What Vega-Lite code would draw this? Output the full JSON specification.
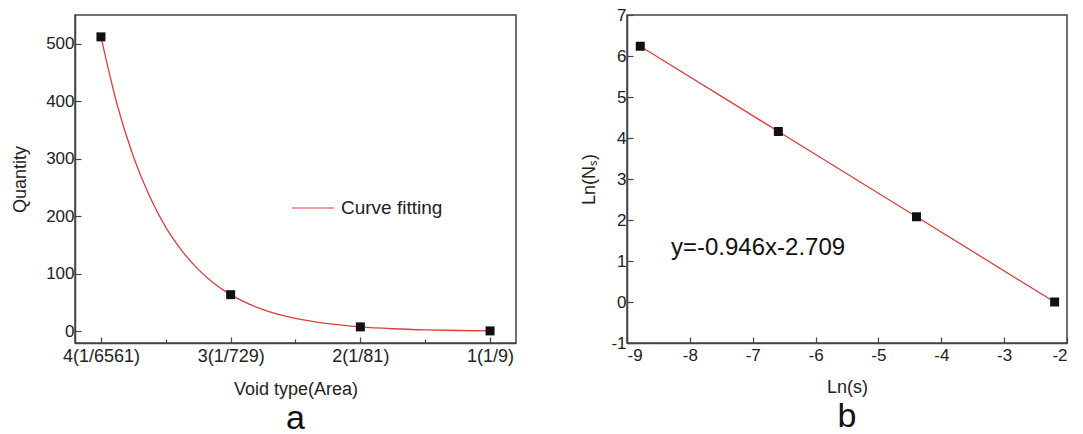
{
  "$schema": "https://vega.github.io/schema/vega-lite/v6.json",
  "padding": {"left": 10, "top": 5, "right": 0, "bottom": 0},
  "background": "white",
  "spacing": 111,
  "bounds": "flush",
  "config": {
    "view": {"stroke": "#444", "strokeWidth": 1.5},
    "font": "Liberation Sans",
    "axis": {
      "grid": false,
      "domainColor": "#444",
      "domainWidth": 1.5,
      "tickColor": "#444",
      "tickWidth": 1.2,
      "labelFont": "Liberation Sans",
      "labelFontSize": 17,
      "labelColor": "#222",
      "titleFont": "Liberation Sans",
      "titleFontSize": 18,
      "titleFontWeight": "normal",
      "titleColor": "#222"
    },
    "title": {"font": "Liberation Sans", "fontWeight": "normal", "color": "#111"}
  },
  "datasets": {
    "curveA": [
      {"idx": 0, "q": 512},
      {"idx": 0.125, "q": 394},
      {"idx": 0.25, "q": 304},
      {"idx": 0.375, "q": 235},
      {"idx": 0.5, "q": 181},
      {"idx": 0.625, "q": 140},
      {"idx": 0.75, "q": 108},
      {"idx": 0.875, "q": 83},
      {"idx": 1, "q": 64},
      {"idx": 1.25, "q": 38},
      {"idx": 1.5, "q": 22.6},
      {"idx": 1.75, "q": 13.5},
      {"idx": 2, "q": 8},
      {"idx": 2.25, "q": 4.8},
      {"idx": 2.5, "q": 2.8},
      {"idx": 2.75, "q": 1.7},
      {"idx": 3, "q": 1}
    ],
    "pointsA": [
      {"idx": 0, "q": 512},
      {"idx": 1, "q": 64},
      {"idx": 2, "q": 8},
      {"idx": 3, "q": 1}
    ],
    "pointsB": [
      {"lns": -8.789, "lnn": 6.238},
      {"lns": -6.592, "lnn": 4.159},
      {"lns": -4.394, "lnn": 2.079},
      {"lns": -2.197, "lnn": 0}
    ],
    "labelB": [
      {"lns": -8.3, "lnn": 1.31, "text": "y=-0.946x-2.709"}
    ]
  },
  "hconcat": [
    {
      "width": 441,
      "height": 328,
      "title": {"text": "a", "orient": "bottom", "fontSize": 34, "offset": 4},
      "layer": [
        {
          "data": {"name": "curveA"},
          "mark": {"type": "line", "strokeWidth": 1.3, "interpolate": "monotone"},
          "encoding": {
            "x": {
              "field": "idx", "type": "quantitative",
              "scale": {"domain": [-0.2, 3.2], "nice": false, "zero": false},
              "axis": {
                "title": "Void type(Area)",
                "values": [0, 0.5, 1, 1.5, 2, 2.5, 3],
                "labelExpr": "datum.value === 0 ? '4(1/6561)' : datum.value === 1 ? '3(1/729)' : datum.value === 2 ? '2(1/81)' : datum.value === 3 ? '1(1/9)' : ''",
                "labelFontSize": 18,
                "tickSize": {"condition": {"test": "datum.value % 1 === 0", "value": -6}, "value": -4},
                "labelPadding": 10,
                "titlePadding": 15
              }
            },
            "y": {
              "field": "q", "type": "quantitative",
              "scale": {"domain": [-20, 550], "nice": false, "zero": false},
              "axis": {
                "title": "Quantity",
                "values": [0, 50, 100, 150, 200, 250, 300, 350, 400, 450, 500],
                "labelExpr": "datum.value % 100 === 0 ? '' + datum.value : ''",
                "tickSize": {"condition": {"test": "datum.value % 100 === 0", "value": -6}, "value": -4},
                "labelPadding": 7,
                "titlePadding": 16
              }
            },
            "color": {
              "datum": "Curve fitting",
              "type": "nominal",
              "scale": {"range": ["#e03c3c"]},
              "legend": {
                "title": null,
                "orient": "none",
                "legendX": 216,
                "legendY": 171,
                "padding": 0,
                "symbolType": "stroke",
                "symbolSize": 1764,
                "symbolStrokeWidth": 1.2,
                "labelOffset": 6,
                "labelFontSize": 19,
                "labelFont": "Liberation Sans",
                "labelColor": "#222"
              }
            }
          }
        },
        {
          "data": {"name": "pointsA"},
          "mark": {"type": "point", "shape": "square", "filled": true, "size": 81, "color": "#111", "opacity": 1},
          "encoding": {
            "x": {"field": "idx", "type": "quantitative"},
            "y": {"field": "q", "type": "quantitative"}
          }
        }
      ]
    },
    {
      "width": 440,
      "height": 328,
      "title": {"text": "b", "orient": "bottom", "fontSize": 34, "offset": 4},
      "layer": [
        {
          "data": {"name": "pointsB"},
          "mark": {"type": "line", "strokeWidth": 1.3, "color": "#e03c3c"},
          "encoding": {
            "x": {
              "field": "lns", "type": "quantitative",
              "scale": {"domain": [-9, -2], "nice": false, "zero": false},
              "axis": {
                "title": "Ln(s)",
                "values": [-9, -8.5, -8, -7.5, -7, -6.5, -6, -5.5, -5, -4.5, -4, -3.5, -3, -2.5, -2],
                "labelExpr": "datum.value % 1 === 0 ? '' + datum.value : ''",
                "tickSize": {"condition": {"test": "datum.value % 1 === 0", "value": -6}, "value": -4},
                "labelPadding": 10,
                "titlePadding": 15
              }
            },
            "y": {
              "field": "lnn", "type": "quantitative",
              "scale": {"domain": [-1, 7], "nice": false, "zero": false},
              "axis": {
                "title": "Ln(Nₛ)",
                "values": [-1, -0.5, 0, 0.5, 1, 1.5, 2, 2.5, 3, 3.5, 4, 4.5, 5, 5.5, 6, 6.5, 7],
                "labelExpr": "datum.value % 1 === 0 ? '' + datum.value : ''",
                "tickSize": {"condition": {"test": "datum.value % 1 === 0", "value": -6}, "value": -4},
                "labelPadding": 7,
                "titlePadding": 12
              }
            }
          }
        },
        {
          "data": {"name": "pointsB"},
          "mark": {"type": "point", "shape": "square", "filled": true, "size": 81, "color": "#111", "opacity": 1},
          "encoding": {
            "x": {"field": "lns", "type": "quantitative"},
            "y": {"field": "lnn", "type": "quantitative"}
          }
        },
        {
          "data": {"name": "labelB"},
          "mark": {"type": "text", "align": "left", "baseline": "middle", "fontSize": 24, "font": "Liberation Sans", "color": "#111"},
          "encoding": {
            "x": {"field": "lns", "type": "quantitative"},
            "y": {"field": "lnn", "type": "quantitative"},
            "text": {"field": "text"}
          }
        }
      ]
    }
  ]
}
